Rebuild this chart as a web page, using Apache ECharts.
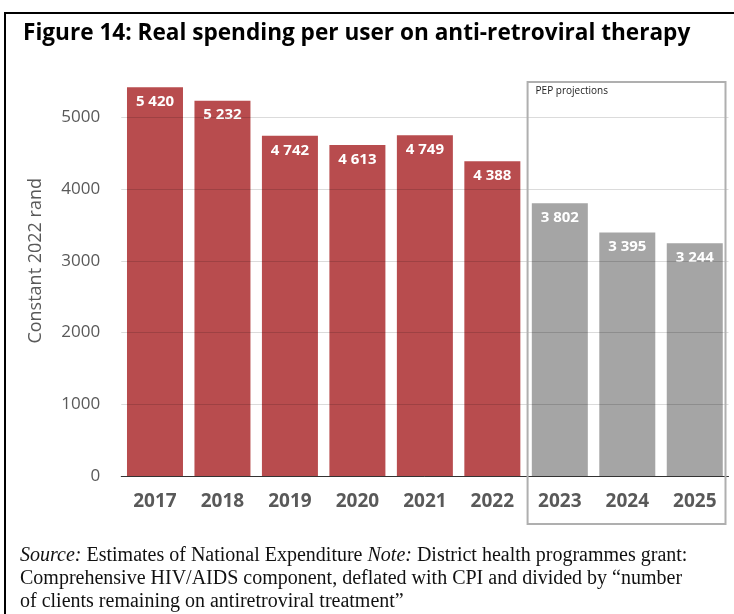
<!DOCTYPE html>
<html>
<head>
<meta charset="utf-8">
<script src="https://cdn.jsdelivr.net/npm/echarts@6/dist/echarts.min.js"></script>
<style>
html,body{margin:0;padding:0;background:#fff;}
#chart{width:734px;height:614px;}
</style>
</head>
<body>
<div id="chart"></div>
<script>
const years = ['2017','2018','2019','2020','2021','2022','2023','2024','2025'];
const spending = [5420, 5232, 4742, 4613, 4749, 4388, 3802, 3395, 3244];
const projected = [false, false, false, false, false, false, true, true, true];
const yTicks = [0, 1000, 2000, 3000, 4000, 5000, 6000];

const RED = '#B84C4E';
const GREY = '#A5A5A5';

function fmt(v){ return String(v).replace(/\B(?=(\d{3})+(?!\d))/g, ' '); }

const chart = echarts.init(document.getElementById('chart'));
const option = {
  animation: false,
  backgroundColor: '#fff',
  title: {
    text: 'Figure 14: Real spending per user on anti-retroviral therapy',
    left: 18, top: 17,
    textStyle: {fontFamily: 'Open Sans', fontWeight: 'bold', fontSize: 22.6, color: '#000'}
  },
  grid: {left: 121.25, right: 5.5, top: 45.6, bottom: 138, containLabel: false},
  xAxis: {
    type: 'category',
    data: years,
    axisTick: {show: false},
    axisLine: {lineStyle: {color: '#333', width: 1}},
    axisLabel: {fontFamily: 'Open Sans', fontWeight: 'bold', fontSize: 19, color: '#595959', margin: 16}
  },
  yAxis: {
    type: 'value',
    min: yTicks[0], max: yTicks[yTicks.length-1], interval: 1000,
    name: 'Constant 2022 rand',
    nameLocation: 'middle',
    nameGap: 76,
    nameTextStyle: {fontFamily: 'Open Sans', fontSize: 18, color: '#595959'},
    axisLine: {show: false},
    axisTick: {show: false},
    axisLabel: {fontFamily: 'Open Sans', fontSize: 17, color: '#595959', margin: 21, showMaxLabel: false,
                formatter: v => String(v)},
    splitLine: {lineStyle: {color: yTicks.map((t,i)=> i === yTicks.length-1 ? 'rgba(0,0,0,0)' : 'rgba(0,0,0,0.14)'), width: 1}}
  },
  series: [{
    type: 'bar',
    z: -1,
    barCategoryGap: '17%',
    data: spending.map((v,i)=>({value: v, itemStyle: {color: projected[i] ? GREY : RED}})),
    label: {
      show: true, position: 'insideTop', distance: 7,
      fontFamily: 'Open Sans', fontWeight: 'bold', fontSize: 15, color: '#fff',
      formatter: p => fmt(p.value)
    }
  }]
};
chart.setOption(option);

// Annotation box around projected years, derived from the category axis
const firstProj = years[projected.indexOf(true)];
const lastProj = years[projected.lastIndexOf(true)];
const band = chart.convertToPixel({xAxisIndex: 0}, years[1]) - chart.convertToPixel({xAxisIndex: 0}, years[0]);
const bx0 = chart.convertToPixel({xAxisIndex: 0}, firstProj) - band/2 + 1.5;
const bx1 = chart.convertToPixel({xAxisIndex: 0}, lastProj) + band/2 - 3;

chart.setOption({
  graphic: [
    {type: 'rect', z: 100, silent: true,
     shape: {x: 5, y: 13, width: 900, height: 800},
     style: {fill: 'none', stroke: '#000', lineWidth: 2}},
    {type: 'rect', z: 100, silent: true,
     shape: {x: bx0, y: 82, width: bx1 - bx0, height: 524 - 82},
     style: {fill: 'none', stroke: '#AFAFAF', lineWidth: 2}},
    {type: 'text', z: 100, left: bx0 + 8, top: 86, silent: true,
     style: {text: 'PEP projections', fontFamily: 'Open Sans', fontSize: 10, fill: '#222'}},
    {type: 'text', z: 100, left: 20, top: 544, silent: true,
     style: {
       text: '{i|Source:} Estimates of National Expenditure {i|Note:} District health programmes grant:\nComprehensive HIV/AIDS component, deflated with CPI and divided by \u201cnumber\nof clients remaining on antiretroviral treatment\u201d',
       fontFamily: 'Liberation Serif', fontSize: 20, lineHeight: 23, fill: '#111',
       rich: {i: {fontFamily: 'Liberation Serif', fontStyle: 'italic', fontSize: 20, lineHeight: 23, fill: '#111'}}
     }}
  ]
});
</script>
</body>
</html>
